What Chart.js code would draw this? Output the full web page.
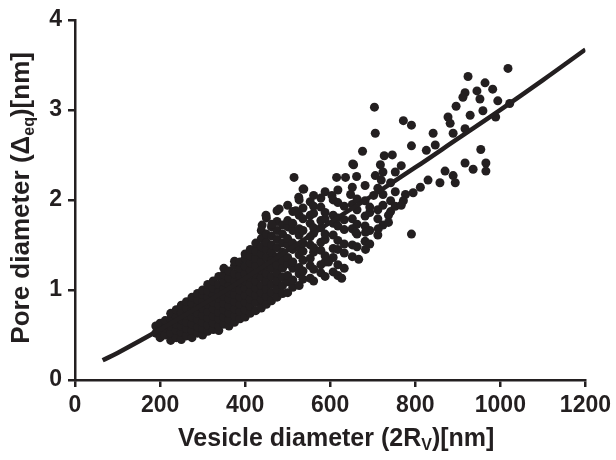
<!DOCTYPE html>
<html>
<head>
<meta charset="utf-8">
<script src="https://cdn.jsdelivr.net/npm/chart.js@4/dist/chart.umd.min.js"></script>
<style>
html, body { margin: 0; padding: 0; background: #fff; }
#wrap { width: 616px; height: 460px; }
</style>
</head>
<body>
<div id="wrap"><canvas id="chart" width="616" height="460"></canvas></div>
<script>
// tick values
const xTicks = [0, 200, 400, 600, 800, 1000, 1200];
const yTicks = [0, 1, 2, 3, 4];

// fitted curve
const fitX = [65, 100, 200, 300, 400, 500, 600, 700, 800, 900, 1000, 1100, 1200];
const fitY = [0.22, 0.30, 0.56, 0.84, 1.13, 1.44, 1.75, 2.05, 2.36, 2.68, 3.00, 3.33, 3.67];

// dense cloud: vesicle diameter column -> pore diameters seen in it
const denseCols = [
  [190, [0.52, 0.60]],
  [200, [0.47, 0.55, 0.63]],
  [212, [0.50, 0.58, 0.66]],
  [225, [0.44, 0.52, 0.60, 0.68, 0.74]],
  [238, [0.47, 0.55, 0.62, 0.70, 0.78]],
  [250, [0.45, 0.53, 0.60, 0.67, 0.75, 0.83]],
  [262, [0.49, 0.57, 0.64, 0.72, 0.80, 0.87]],
  [275, [0.47, 0.55, 0.62, 0.70, 0.77, 0.85, 0.92]],
  [288, [0.52, 0.59, 0.67, 0.74, 0.82, 0.89, 0.96]],
  [300, [0.50, 0.57, 0.64, 0.72, 0.80, 0.87, 0.95, 1.00]],
  [312, [0.54, 0.61, 0.69, 0.76, 0.84, 0.92, 0.99, 1.06]],
  [325, [0.56, 0.63, 0.71, 0.79, 0.86, 0.94, 1.02, 1.10]],
  [338, [0.55, 0.60, 0.68, 0.75, 0.83, 0.91, 0.98, 1.06, 1.15]],
  [350, [0.62, 0.70, 0.78, 0.85, 0.93, 1.01, 1.09, 1.17, 1.24]],
  [362, [0.60, 0.67, 0.74, 0.82, 0.90, 0.97, 1.05, 1.13, 1.21]],
  [375, [0.64, 0.71, 0.79, 0.87, 0.95, 1.03, 1.10, 1.18, 1.27, 1.32]],
  [388, [0.68, 0.76, 0.84, 0.92, 1.00, 1.08, 1.16, 1.24, 1.31]],
  [400, [0.70, 0.78, 0.86, 0.94, 1.02, 1.10, 1.18, 1.26, 1.35, 1.40]],
  [412, [0.74, 0.82, 0.90, 0.98, 1.06, 1.14, 1.22, 1.30, 1.38, 1.45]],
  [425, [0.77, 0.86, 0.94, 1.02, 1.10, 1.18, 1.27, 1.35, 1.43, 1.52]],
  [438, [0.80, 0.89, 0.97, 1.05, 1.14, 1.22, 1.31, 1.40, 1.48, 1.57, 1.66]],
  [450, [0.84, 0.93, 1.01, 1.10, 1.18, 1.27, 1.36, 1.45, 1.53, 1.62, 1.80]],
  [462, [0.88, 0.97, 1.06, 1.15, 1.24, 1.33, 1.42, 1.50, 1.60, 1.70]],
  [475, [0.92, 1.01, 1.10, 1.19, 1.28, 1.37, 1.47, 1.56, 1.66, 1.76, 1.88]],
  [488, [0.96, 1.05, 1.14, 1.24, 1.33, 1.42, 1.52, 1.62, 1.72]],
  [500, [0.97, 1.09, 1.16, 1.29, 1.36, 1.50, 1.57, 1.70, 1.77, 1.94]],
  [512, [1.03, 1.11, 1.24, 1.31, 1.45, 1.52, 1.66, 1.74, 1.87]],
  [527, [1.05, 1.18, 1.25, 1.39, 1.47, 1.61, 1.68, 1.83, 2.00]],
  [536, [1.12, 1.21, 1.33, 1.43, 1.52, 1.66, 1.79, 1.91, 2.12]],
  [553, [1.13, 1.27, 1.35, 1.50, 1.59, 1.74, 1.83, 1.98]],
  [561, [1.10, 1.23, 1.42, 1.47, 1.63, 1.69, 1.85, 1.93, 2.05]],
  [578, [1.19, 1.28, 1.44, 1.53, 1.69, 1.77, 1.92, 2.02]],
  [588, [1.15, 1.31, 1.38, 1.56, 1.62, 1.79, 1.86, 2.09]],
  [607, [1.20, 1.36, 1.46, 1.61, 1.74, 1.83, 2.00]],
  [618, [1.16, 1.28, 1.45, 1.55, 1.71, 1.80, 1.97, 2.11]],
  [633, [1.24, 1.41, 1.51, 1.67, 1.78, 1.93]],
  [652, [1.37, 1.50, 1.68, 1.79, 1.95, 2.14]],
  [663, [1.48, 1.62, 1.73, 1.89, 2.01]],
  [682, [1.54, 1.71, 1.82, 1.99, 2.16]],
  [693, [1.51, 1.66, 1.86, 1.92]],
  [712, [1.61, 1.79, 1.89, 2.13]],
  [724, [1.72, 1.94, 2.06, 2.31]],
  [742, [1.87, 1.99, 2.19]],
  [753, [1.93, 2.09, 2.31]]
];

// scattered points away from the cloud [vesicle, pore]
const sparsePts = [
  [1018, 3.46], [924, 3.37], [964, 3.30], [982, 3.23], [945, 3.21], [917, 3.19],
  [912, 3.14], [952, 3.12], [994, 3.10], [1022, 3.07], [896, 3.04], [959, 2.99],
  [929, 2.94], [989, 2.92], [877, 2.92], [882, 2.85], [917, 2.79], [772, 2.88],
  [791, 2.83], [842, 2.74], [889, 2.74], [791, 2.60], [826, 2.55], [847, 2.61],
  [954, 2.56], [767, 2.38], [917, 2.41], [936, 2.34], [966, 2.41], [966, 2.32],
  [870, 2.32], [889, 2.27], [894, 2.19], [858, 2.19], [830, 2.22], [812, 2.14],
  [795, 2.08], [777, 2.06], [772, 1.99], [791, 1.62], [767, 1.94],
  [515, 2.25], [538, 2.12], [526, 2.03], [615, 2.25], [636, 2.25], [662, 2.26],
  [706, 2.27], [720, 2.22], [655, 2.39], [718, 2.39], [604, 2.05], [648, 2.06],
  [702, 2.05], [737, 1.83], [683, 1.45], [667, 1.34], [627, 1.13], [596, 1.31],
  [683, 1.64], [713, 1.68], [660, 1.64], [737, 1.75], [704, 3.03], [706, 2.74],
  [676, 2.54], [653, 2.40], [727, 2.49], [746, 2.50], [480, 1.90], [449, 1.83],
  [440, 1.72], [463, 1.73], [519, 1.88]
];

const ink = "#231f20";

const scatterData = [];
denseCols.forEach(col => {
  col[1].forEach(y => scatterData.push({ x: col[0], y: y }));
});
sparsePts.forEach(p => scatterData.push({ x: p[0], y: p[1] }));

const fitData = fitX.map((x, i) => ({ x: x, y: fitY[i] }));

// axis titles with subscripts
function drawRich(ctx, parts, size) {
  const big = "bold " + size + "px 'Liberation Sans', Arial, sans-serif";
  const small = "bold " + Math.round(size * 0.62) + "px 'Liberation Sans', Arial, sans-serif";
  let total = 0;
  parts.forEach(p => { ctx.font = p[1] ? small : big; total += ctx.measureText(p[0]).width; });
  let x = -total / 2;
  parts.forEach(p => {
    ctx.font = p[1] ? small : big;
    ctx.fillText(p[0], x, p[1] ? size * 0.28 : 0);
    x += ctx.measureText(p[0]).width;
  });
}

const titlePlugin = {
  id: "titles",
  afterDraw(chart) {
    const ctx = chart.ctx;
    const a = chart.chartArea;
    ctx.save();
    ctx.fillStyle = ink;
    ctx.textBaseline = "middle";
    ctx.textAlign = "left";
    ctx.translate(22, (a.top + a.bottom) / 2 - 2);
    ctx.rotate(-Math.PI / 2);
    drawRich(ctx, [["Pore diameter (Δ", false], ["eq", true], [")[nm]", false]], 26);
    ctx.restore();

    ctx.save();
    ctx.fillStyle = ink;
    ctx.textBaseline = "middle";
    ctx.textAlign = "left";
    ctx.translate((a.left + a.right) / 2 + 6, 439);
    drawRich(ctx, [["Vesicle diameter (2R", false], ["V", true], [")[nm]", false]], 25);
    ctx.restore();
  }
};

const tickFont = { family: "'Liberation Sans', Arial, sans-serif", size: 23, weight: "bold" };

new Chart(document.getElementById("chart"), {
  type: "scatter",
  data: {
    datasets: [
      {
        type: "line",
        data: fitData,
        borderColor: ink,
        borderWidth: 4.5,
        pointRadius: 0,
        tension: 0.4,
        fill: false,
        order: 0
      },
      {
        data: scatterData,
        backgroundColor: ink,
        borderWidth: 0,
        pointRadius: 4.5,
        order: 1
      }
    ]
  },
  options: {
    responsive: false,
    animation: false,
    devicePixelRatio: 1,
    layout: { padding: { top: 15, right: 28, left: 0, bottom: 0 } },
    plugins: { legend: { display: false }, tooltip: { enabled: false } },
    scales: {
      x: {
        type: "linear",
        min: 0,
        max: 1200,
        afterBuildTicks: s => { s.ticks = xTicks.map(v => ({ value: v })); },
        afterFit: s => { s.height = 80; },
        ticks: { font: tickFont, color: ink, padding: 5, maxRotation: 0, callback: v => String(v) },
        grid: { drawOnChartArea: false, drawTicks: true, tickLength: 7, lineWidth: 2.5, color: ink },
        border: { display: true, width: 2.5, color: ink }
      },
      y: {
        type: "linear",
        min: 0,
        max: 4,
        afterBuildTicks: s => { s.ticks = yTicks.map(v => ({ value: v })); },
        afterFit: s => { s.width = 75; },
        ticks: { font: tickFont, color: ink, padding: 6, callback: v => String(v) },
        grid: { drawOnChartArea: false, drawTicks: true, tickLength: 7, lineWidth: 2.5, color: ink },
        border: { display: true, width: 2.5, color: ink }
      }
    }
  },
  plugins: [titlePlugin]
});
</script>
</body>
</html>
